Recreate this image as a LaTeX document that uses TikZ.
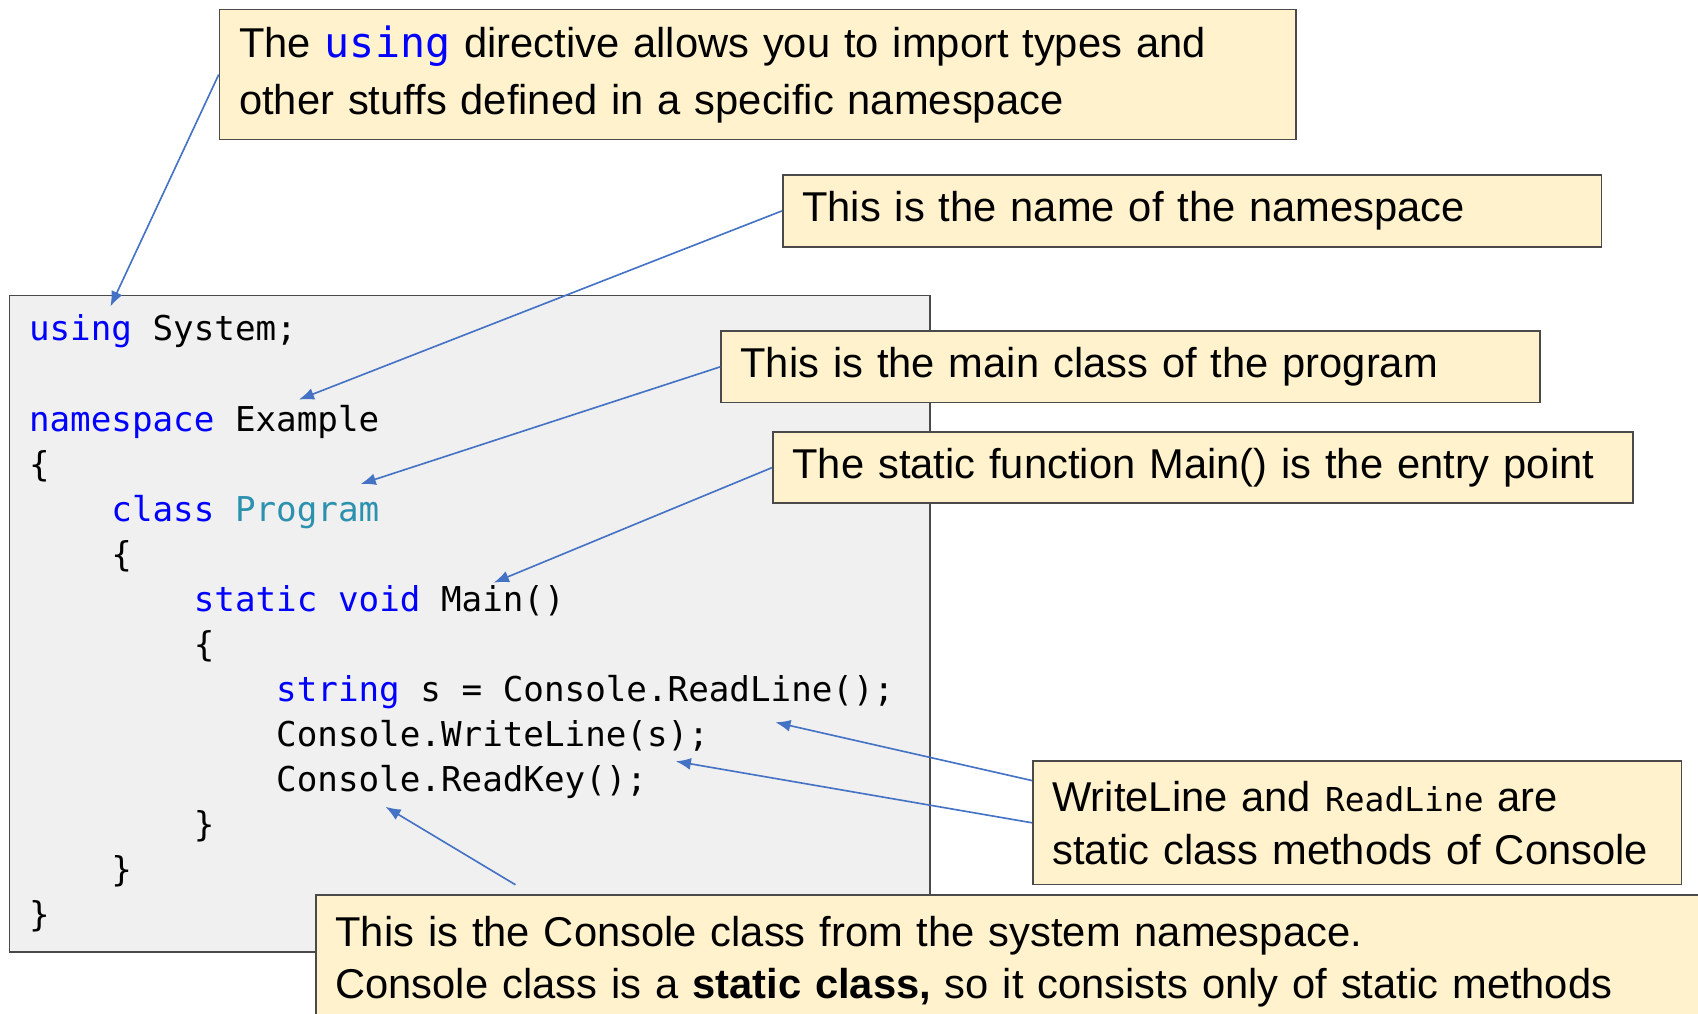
\documentclass[tikz,border=0pt]{standalone}
\usepackage{fontspec}
\setmainfont{Liberation Sans}
\setmonofont{DejaVu Sans Mono}
\usetikzlibrary{arrows.meta}
\definecolor{Note}{HTML}{FFF2CC}
\definecolor{CodeBg}{HTML}{F0F0F0}
\definecolor{Frame}{HTML}{4A4A4A}
\definecolor{Pointer}{HTML}{4472C4}
\definecolor{Kw}{HTML}{0000FF}
\definecolor{Cls}{HTML}{2B91AF}
\newcommand{\kw}[1]{\textcolor{Kw}{#1}}
\newcommand{\tb}{\phantom{xxxx}}
\newcommand{\sx}{\phantom{x}}

\begin{document}
\begin{tikzpicture}[x=1pt,y=-1pt,every node/.style={text=black},note/.style={draw=Frame,fill=Note,line width=1.6pt,anchor=north west,inner xsep=18pt,align=left,minimum height=66pt,font=\fontsize{38.5}{50}\selectfont},codebox/.style={draw=Frame,fill=CodeBg,line width=1.6pt,anchor=north west,inner xsep=18pt,align=left,text width=814pt,minimum height=606pt,font=\ttfamily\fontsize{31.6}{41.6}\selectfont},link/.style={draw=Pointer,line width=1.5pt,-{Latex[length=14pt,width=11pt]}}]
\useasboundingbox (0,0) rectangle (1568,936);
\clip (0,0) rectangle (1568,936);
\fill[white] (0,0) rectangle (1568,936);

\node[codebox] (code) at (8,272) {\kw{using}\sx System;\\\mbox{}\\\kw{namespace}\sx Example\\\{\\\tb\kw{class}\sx\textcolor{Cls}{Program}\\\tb\{\\\tb\tb\kw{static}\sx\kw{void}\sx Main()\\\tb\tb\{\\\tb\tb\tb\kw{string}\sx s\sx=\sx Console.ReadLine();\\\tb\tb\tb Console.WriteLine(s);\\\tb\tb\tb Console.ReadKey();\\\tb\tb\}\\\tb\}\\\}};

\node[note,text width=958pt,minimum height=120pt,font=\fontsize{38.5}{52}\selectfont] (using) at (202,8) {The \kw{\texttt{using}} directive allows you to import types and\\other stuffs defined in a specific namespace};
\node[note,text width=720pt] (nsname) at (722,161) {This is the name of the namespace};
\node[note,text width=720pt] (mainclass) at (665,305) {This is the main class of the program};
\node[note,text width=758pt] (entry) at (713,398) {\mbox{The static function Main() is the entry point}};
\node[note,text width=563pt,minimum height=114pt,font=\fontsize{38.5}{49}\selectfont] (methods) at (953,702) {\mbox{WriteLine and {\ttfamily\fontsize{30.4}{49}\selectfont ReadLine} are}\\\mbox{static class methods of Console}};
\node[note,text width=1300pt,minimum height=0pt,inner ysep=19.5pt,font=\fontsize{38.5}{48}\selectfont] (console) at (291,826) {This is the Console class from the system namespace.\\Console class is a \textbf{static class,} so it consists only of static methods};

\coordinate (tUsing) at (102,283);\coordinate (tExample) at (276,369);\coordinate (tProgram) at (333,447);\coordinate (tMain) at (456,538);
\coordinate (tRead) at (716,667);\coordinate (tWrite) at (624,703);\coordinate (tKey) at (356,745);\coordinate (fTop) at (476,817);
\draw[link] (using.west) -- (tUsing);\draw[link] (nsname.west) -- (tExample);\draw[link] (mainclass.west) -- (tProgram);\draw[link] (entry.west) -- (tMain);
\draw[link] ([yshift=39pt]methods.west) -- (tRead);\draw[link] (methods.west) -- (tWrite);\draw[link] (fTop) -- (tKey);
\end{tikzpicture}
\end{document}
